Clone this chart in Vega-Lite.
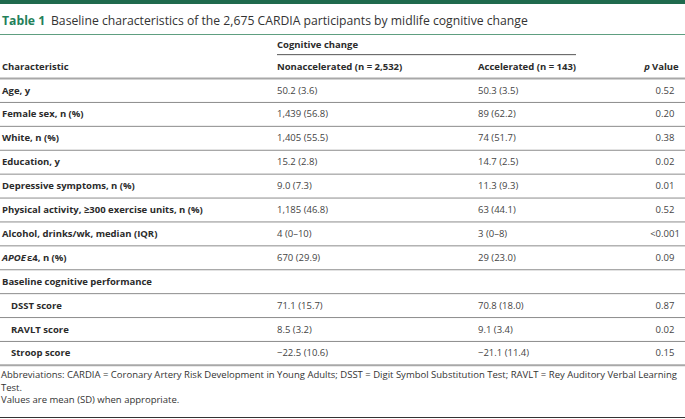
{
  "$schema": "https://vega.github.io/schema/vega-lite/v6.json",
  "width": 685,
  "height": 419,
  "autosize": {"type": "none"},
  "padding": 0,
  "background": "white",
  "config": {"view": {"stroke": null}, "text": {"font": "Open Sans"}},
  "datasets": {
    "rows": [
      {"row": "Age, y", "label": "Age, y", "labelRest": "", "italicPart": "", "level": "main", "nonacc": "50.2 (3.6)", "acc": "50.3 (3.5)", "p": "0.52"},
      {"row": "Female sex, n (%)", "label": "Female sex, n (%)", "labelRest": "", "italicPart": "", "level": "main", "nonacc": "1,439 (56.8)", "acc": "89 (62.2)", "p": "0.20"},
      {"row": "White, n (%)", "label": "White, n (%)", "labelRest": "", "italicPart": "", "level": "main", "nonacc": "1,405 (55.5)", "acc": "74 (51.7)", "p": "0.38"},
      {"row": "Education, y", "label": "Education, y", "labelRest": "", "italicPart": "", "level": "main", "nonacc": "15.2 (2.8)", "acc": "14.7 (2.5)", "p": "0.02"},
      {"row": "Depressive symptoms, n (%)", "label": "Depressive symptoms, n (%)", "labelRest": "", "italicPart": "", "level": "main", "nonacc": "9.0 (7.3)", "acc": "11.3 (9.3)", "p": "0.01"},
      {"row": "Physical activity, ≥300 exercise units, n (%)", "label": "Physical activity, ≥300 exercise units, n (%)", "labelRest": "", "italicPart": "", "level": "main", "nonacc": "1,185 (46.8)", "acc": "63 (44.1)", "p": "0.52"},
      {"row": "Alcohol, drinks/wk, median (IQR)", "label": "Alcohol, drinks/wk, median (IQR)", "labelRest": "", "italicPart": "", "level": "main", "nonacc": "4 (0–10)", "acc": "3 (0–8)", "p": "<0.001"},
      {"row": "APOE ε4, n (%)", "label": "", "labelRest": "ε4, n (%)", "italicPart": "APOE", "level": "main", "nonacc": "670 (29.9)", "acc": "29 (23.0)", "p": "0.09"},
      {"row": "Baseline cognitive performance", "label": "Baseline cognitive performance", "labelRest": "", "italicPart": "", "level": "main", "nonacc": "", "acc": "", "p": ""},
      {"row": "DSST score", "label": "DSST score", "labelRest": "", "italicPart": "", "level": "sub", "nonacc": "71.1 (15.7)", "acc": "70.8 (18.0)", "p": "0.87"},
      {"row": "RAVLT score", "label": "RAVLT score", "labelRest": "", "italicPart": "", "level": "sub", "nonacc": "8.5 (3.2)", "acc": "9.1 (3.4)", "p": "0.02"},
      {"row": "Stroop score", "label": "Stroop score", "labelRest": "", "italicPart": "", "level": "sub", "nonacc": "−22.5 (10.6)", "acc": "−21.1 (11.4)", "p": "0.15"}
    ],
    "header": [
      {"group": "Cognitive change", "first": "Characteristic", "nonacc": "Nonaccelerated (n = 2,532)", "acc": "Accelerated (n = 143)", "pItalic": "p", "pRest": "Value"}
    ],
    "caption": [
      {"label": "Table 1", "text": "Baseline characteristics of the 2,675 CARDIA participants by midlife cognitive change"}
    ],
    "notes": [
      {"note": ["Abbreviations: CARDIA = Coronary Artery Risk Development in Young Adults; DSST = Digit Symbol Substitution Test; RAVLT = Rey Auditory Verbal Learning", "Test.", "Values are mean (SD) when appropriate."]}
    ]
  },
  "encoding": {},
  "layer": [
    {
      "data": {"values": [{}]},
      "mark": {"type": "rule", "color": "#1f6a4d", "strokeWidth": 4},
      "encoding": {"y": {"value": 2}}
    },
    {
      "data": {"name": "caption"},
      "mark": {"type": "text", "align": "left", "baseline": "middle", "fontSize": 12.2, "fontWeight": "bold", "color": "#23805a"},
      "encoding": {"x": {"value": 2}, "y": {"value": 21}, "text": {"field": "label"}}
    },
    {
      "data": {"name": "caption"},
      "mark": {"type": "text", "align": "left", "baseline": "middle", "fontSize": 12.2, "color": "#333333"},
      "encoding": {"x": {"value": 51}, "y": {"value": 21}, "text": {"field": "text"}}
    },
    {
      "data": {"values": [{}]},
      "mark": {"type": "rule", "color": "#5e9e80", "strokeWidth": 1},
      "encoding": {"y": {"value": 34.5}}
    },
    {
      "data": {"name": "header"},
      "mark": {"type": "text", "align": "left", "baseline": "middle", "fontSize": 9.5, "fontWeight": "bold", "color": "#2b2b2b", "dy": 2},
      "encoding": {
        "x": {"datum": 1, "type": "quantitative", "scale": {"domain": [0, 1, 2, 3, 4], "range": [2, 277, 478, 576, 665]}, "axis": null},
        "y": {"datum": "Cognitive change", "type": "nominal", "scale": {"domain": ["Cognitive change", "Characteristic", "Age, y", "Female sex, n (%)", "White, n (%)", "Education, y", "Depressive symptoms, n (%)", "Physical activity, ≥300 exercise units, n (%)", "Alcohol, drinks/wk, median (IQR)", "APOE ε4, n (%)", "Baseline cognitive performance", "DSST score", "RAVLT score", "Stroop score"], "type": "band", "range": [30.75, 365.35], "paddingInner": 0, "paddingOuter": 0}, "axis": null},
        "text": {"field": "group"}
      }
    },
    {
      "data": {"name": "header"},
      "mark": {"type": "rule", "color": "#555555", "strokeWidth": 1},
      "encoding": {
        "x": {"datum": 1, "type": "quantitative"},
        "x2": {"datum": 3},
        "y": {"datum": "Cognitive change", "type": "nominal", "bandPosition": 1}
      }
    },
    {
      "data": {"name": "header"},
      "mark": {"type": "text", "align": "left", "baseline": "middle", "fontSize": 9.5, "fontWeight": "bold", "color": "#2b2b2b"},
      "encoding": {"x": {"datum": 0, "type": "quantitative"}, "y": {"datum": "Characteristic", "type": "nominal"}, "text": {"field": "first"}}
    },
    {
      "data": {"name": "header"},
      "mark": {"type": "text", "align": "left", "baseline": "middle", "fontSize": 9.5, "fontWeight": "bold", "color": "#2b2b2b"},
      "encoding": {"x": {"datum": 1, "type": "quantitative"}, "y": {"datum": "Characteristic", "type": "nominal"}, "text": {"field": "nonacc"}}
    },
    {
      "data": {"name": "header"},
      "mark": {"type": "text", "align": "left", "baseline": "middle", "fontSize": 9.5, "fontWeight": "bold", "color": "#2b2b2b"},
      "encoding": {"x": {"datum": 2, "type": "quantitative"}, "y": {"datum": "Characteristic", "type": "nominal"}, "text": {"field": "acc"}}
    },
    {
      "data": {"name": "header"},
      "mark": {"type": "text", "align": "right", "baseline": "middle", "fontSize": 9.5, "fontWeight": "bold", "fontStyle": "italic", "color": "#2b2b2b", "dx": -15},
      "encoding": {"x": {"datum": 4, "type": "quantitative"}, "y": {"datum": "Characteristic", "type": "nominal"}, "text": {"field": "pItalic"}}
    },
    {
      "data": {"name": "header"},
      "mark": {"type": "text", "align": "left", "baseline": "middle", "fontSize": 9.5, "fontWeight": "bold", "color": "#2b2b2b", "dx": -13},
      "encoding": {"x": {"datum": 4, "type": "quantitative"}, "y": {"datum": "Characteristic", "type": "nominal"}, "text": {"field": "pRest"}}
    },
    {
      "data": {"name": "header"},
      "mark": {"type": "rule", "color": "#a8a8a8", "strokeWidth": 2},
      "encoding": {"y": {"datum": "Characteristic", "type": "nominal", "bandPosition": 1}}
    },
    {
      "data": {"name": "rows"},
      "transform": [{"filter": "datum.level === 'main'"}],
      "mark": {"type": "text", "align": "left", "baseline": "middle", "fontSize": 9.5, "fontWeight": "bold", "color": "#2b2b2b"},
      "encoding": {"x": {"datum": 0, "type": "quantitative"}, "y": {"field": "row", "type": "nominal"}, "text": {"field": "label"}}
    },
    {
      "data": {"name": "rows"},
      "transform": [{"filter": "datum.level === 'sub'"}],
      "mark": {"type": "text", "align": "left", "baseline": "middle", "fontSize": 9.5, "fontWeight": "bold", "color": "#2b2b2b", "dx": 9},
      "encoding": {"x": {"datum": 0, "type": "quantitative"}, "y": {"field": "row", "type": "nominal"}, "text": {"field": "label"}}
    },
    {
      "data": {"name": "rows"},
      "transform": [{"filter": "datum.italicPart !== ''"}],
      "mark": {"type": "text", "align": "left", "baseline": "middle", "fontSize": 9.5, "fontWeight": "bold", "fontStyle": "italic", "color": "#2b2b2b"},
      "encoding": {"x": {"datum": 0, "type": "quantitative"}, "y": {"field": "row", "type": "nominal"}, "text": {"field": "italicPart"}}
    },
    {
      "data": {"name": "rows"},
      "transform": [{"filter": "datum.italicPart !== ''"}],
      "mark": {"type": "text", "align": "left", "baseline": "middle", "fontSize": 9.5, "fontWeight": "bold", "color": "#2b2b2b", "dx": 25},
      "encoding": {"x": {"datum": 0, "type": "quantitative"}, "y": {"field": "row", "type": "nominal"}, "text": {"field": "labelRest"}}
    },
    {
      "data": {"name": "rows"},
      "mark": {"type": "text", "align": "left", "baseline": "middle", "fontSize": 9.5, "color": "#444444"},
      "encoding": {"x": {"datum": 1, "type": "quantitative"}, "y": {"field": "row", "type": "nominal"}, "text": {"field": "nonacc"}}
    },
    {
      "data": {"name": "rows"},
      "mark": {"type": "text", "align": "left", "baseline": "middle", "fontSize": 9.5, "color": "#444444"},
      "encoding": {"x": {"datum": 2, "type": "quantitative"}, "y": {"field": "row", "type": "nominal"}, "text": {"field": "acc"}}
    },
    {
      "data": {"name": "rows"},
      "mark": {"type": "text", "align": "center", "baseline": "middle", "fontSize": 9.5, "color": "#444444"},
      "encoding": {"x": {"datum": 4, "type": "quantitative"}, "y": {"field": "row", "type": "nominal"}, "text": {"field": "p"}}
    },
    {
      "data": {"name": "rows"},
      "transform": [{"filter": "datum.row !== 'Stroop score'"}],
      "mark": {"type": "rule", "color": "#8c8c8c", "strokeWidth": 1},
      "encoding": {"y": {"field": "row", "type": "nominal", "bandPosition": 1}}
    },
    {
      "data": {"name": "rows"},
      "transform": [{"filter": "datum.row === 'Stroop score'"}],
      "mark": {"type": "rule", "color": "#a8a8a8", "strokeWidth": 2},
      "encoding": {"y": {"field": "row", "type": "nominal", "bandPosition": 1}}
    },
    {
      "data": {"name": "notes"},
      "mark": {"type": "text", "align": "left", "baseline": "top", "fontSize": 9.5, "lineHeight": 12.5, "color": "#333333"},
      "encoding": {"x": {"value": 1}, "y": {"value": 370}, "text": {"field": "note"}}
    },
    {
      "data": {"values": [{}]},
      "mark": {"type": "rule", "color": "#333333", "strokeWidth": 1},
      "encoding": {"y": {"value": 417.5}}
    }
  ]
}
